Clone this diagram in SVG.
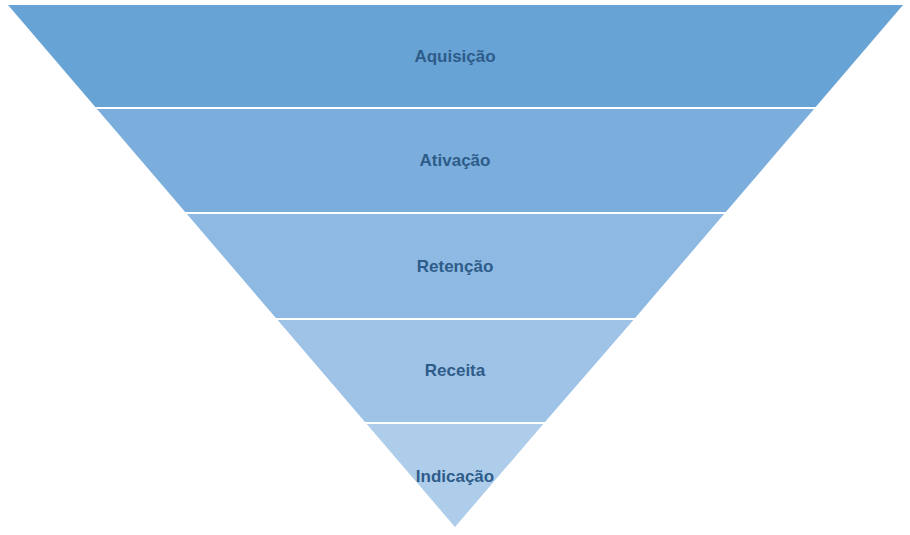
<svg xmlns="http://www.w3.org/2000/svg" width="910" height="535" viewBox="0 0 910 535">
<style>
text{font-family:"Liberation Sans",Arial,sans-serif;font-weight:bold;font-size:17px;fill:#2E5C8A;text-anchor:middle}
</style>
<rect width="910" height="535" fill="#fff"/>
<g id="aquisicao"><polygon points="8,5 903,5 815.7,107 95.3,107" fill="#67A3D5"/><text x="455" y="62">Aquisição</text></g>
<g id="ativacao"><polygon points="97,109 814,109 725.8,212 185.2,212" fill="#7BAEDC"/><text x="455" y="166">Ativação</text></g>
<g id="retencao"><polygon points="186.9,214 724.1,214 635.1,318 275.9,318" fill="#8DB9E2"/><text x="455" y="272">Retenção</text></g>
<g id="receita"><polygon points="277.6,320 633.4,320 545,422 365,422" fill="#9EC3E6"/><text x="455" y="376">Receita</text></g>
<g id="indicacao"><polygon points="366.7,424 543.3,424 455,527" fill="#AECDEA"/><text x="455" y="482">Indicação</text></g>
<g id="connectors"/>
</svg>
